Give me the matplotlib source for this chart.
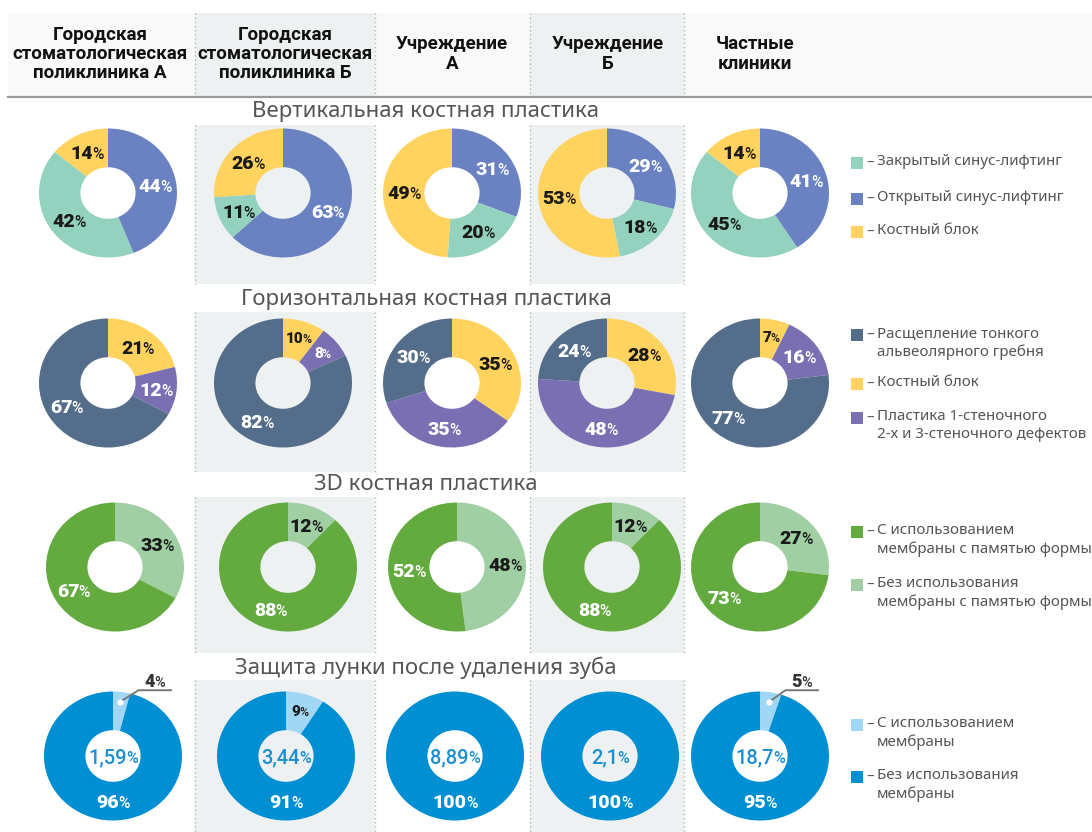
import numpy as np
import matplotlib
matplotlib.use("Agg")
import matplotlib.pyplot as plt
from matplotlib.patches import Rectangle
from matplotlib import transforms

# column headers
clinics = [
    "Городская\nстоматологическая\nполиклиника А",
    "Городская\nстоматологическая\nполиклиника Б",
    "Учреждение\nА",
    "Учреждение\nБ",
    "Частные\nклиники",
]

section_titles = [
    "Вертикальная костная пластика",
    "Горизонтальная костная пластика",
    "3D костная пластика",
    "Защита лунки после удаления зуба",
]

# vertical bone grafting, % (wedge order: open lift, closed lift, bone block)
vert_open = [44, 63, 31, 29, 41]
vert_closed = [42, 11, 20, 18, 45]
vert_block = [14, 26, 49, 53, 14]

# horizontal bone grafting, % (bone block, wall defects, ridge split)
horiz_block = [21, 10, 35, 28, 7]
horiz_defect = [12, 8, 35, 48, 16]
horiz_split = [67, 82, 30, 24, 77]

# 3D grafting, % (without / with shape-memory membrane)
d3_without = [33, 12, 48, 12, 27]
d3_with = [67, 88, 52, 88, 73]

# socket protection, % (with / without membrane) and share of all extractions
socket_with = [4, 9, 0, 0, 5]
socket_without = [96, 91, 100, 100, 95]
socket_share = ["1,59", "3,44", "8,89", "2,1", "18,7"]

C_CLOSED = "#93d2bf"
C_OPEN = "#6a82c2"
C_BLOCK = "#ffd35e"
C_SPLIT = "#546d8b"
C_DEFECT = "#7a6fb2"
C_3D_WITH = "#63ab3f"
C_3D_WITHOUT = "#a0cfa3"
C_SOCK_WITH = "#9fd7f4"
C_SOCK_WITHOUT = "#008fd3"
DARK = {C_OPEN, C_SPLIT, C_DEFECT, C_3D_WITH, C_SOCK_WITHOUT}

rows = [
    ([vert_open, vert_closed, vert_block], [C_OPEN, C_CLOSED, C_BLOCK]),
    ([horiz_block, horiz_defect, horiz_split], [C_BLOCK, C_DEFECT, C_SPLIT]),
    ([d3_without, d3_with], [C_3D_WITHOUT, C_3D_WITH]),
    ([socket_with, socket_without], [C_SOCK_WITH, C_SOCK_WITHOUT]),
]

legends = [
    [(C_CLOSED, "Закрытый синус-лифтинг"),
     (C_OPEN, "Открытый синус-лифтинг"),
     (C_BLOCK, "Костный блок")],
    [(C_SPLIT, "Расщепление тонкого\nальвеолярного гребня"),
     (C_BLOCK, "Костный блок"),
     (C_DEFECT, "Пластика 1-стеночного\n2-х и 3-стеночного дефектов")],
    [(C_3D_WITH, "С использованием\nмембраны с памятью формы"),
     (C_3D_WITHOUT, "Без использования\nмембраны с памятью формы")],
    [(C_SOCK_WITH, "С использованием\nмембраны"),
     (C_SOCK_WITHOUT, "Без использования\nмембраны")],
]

W, H = 1092, 832
TEXT_FONT = ["Noto Sans", "DejaVu Sans"]
HEAD_FONT = ["Roboto", "DejaVu Sans"]
NUM_FONT = ["Roboto", "DejaVu Sans"]

# layout in pixels
row_cy = [193, 383, 567, 756]
col_cx = [
    [108, 283, 452, 607, 760],
    [108, 283, 452, 607, 760],
    [115, 288, 457, 612, 760],
    [113, 286, 455, 610, 760],
]
RX, RY = 69, 64.5
band_y = [(125, 284), (312, 472), (497, 653), (680, 832)]
title_y = [112, 300, 485, 668]
shaded_cols = [(195, 375), (530, 684)]
legend_y = [[163, 199, 232], [335, 384, 418], [532, 585], [725, 777]]

fig = plt.figure(figsize=(W / 100, H / 100), dpi=100)
fig.patch.set_facecolor("white")
bg = fig.add_axes([0, 0, 1, 1])
bg.set_xlim(0, W)
bg.set_ylim(H, 0)
bg.axis("off")
renderer = fig.canvas.get_renderer()


def shaded(y0, y1):
    for x0, x1 in shaded_cols:
        bg.add_patch(Rectangle((x0, y0), x1 - x0, y1 - y0, color="#eef1f2", lw=0, zorder=1))
        for x in (x0, x1):
            bg.plot([x, x], [y0, y1], color="#b5b5b5", lw=1, ls=(0, (1, 2)), zorder=2)


# header
bg.add_patch(Rectangle((8, 13), W - 8, 84, color="#f9f9f9", lw=0, zorder=0))
shaded(13, 97)
bg.plot([8, W], [97, 97], color="#9b9b9b", lw=1.6, zorder=3)
head_x = [100, 285, 452, 608, 755]
for x, name in zip(head_x, clinics):
    bg.text(x, 54, name, ha="center", va="center", fontsize=13.5, fontweight="bold",
            family=HEAD_FONT, color="#111111", linespacing=1.1, zorder=4)

for i, t in enumerate(section_titles):
    shaded(*band_y[i])
    bg.text(426, title_y[i], t, ha="center", va="center", fontsize=16,
            family=TEXT_FONT, color="#555555", zorder=4)


def pct_text(ax, x, y, num, color, size, weight="heavy"):
    px = size * fig.dpi / 72
    dy = -0.36 * px
    t1 = ax.text(x, y, num, fontsize=size, fontweight=weight, color=color,
                 ha="left", va="baseline", family=NUM_FONT, zorder=5)
    t2 = ax.text(x, y, "%", fontsize=size * 0.8, fontweight="medium", color=color,
                 ha="left", va="baseline", family=NUM_FONT, zorder=5)
    w1 = t1.get_window_extent(renderer).width
    w2 = t2.get_window_extent(renderer).width
    left = -(w1 + w2 - 1) / 2
    t1.set_transform(transforms.offset_copy(ax.transData, fig=fig, x=left, y=dy, units="dots"))
    t2.set_transform(transforms.offset_copy(ax.transData, fig=fig, x=left + w1 - 1, y=dy, units="dots"))


for r, (series, colors) in enumerate(rows):
    for c in range(5):
        cx, cy = col_cx[r][c], row_cy[r]
        ax = fig.add_axes([(cx - RX) / W, 1 - (cy + RY) / H, 2 * RX / W, 2 * RY / H])
        vals = [s[c] for s in series]
        ax.pie(vals, colors=colors, startangle=90, counterclock=False, radius=1,
               wedgeprops=dict(width=0.6, linewidth=0))
        ax.set_aspect("auto")
        ax.set_xlim(-1, 1)
        ax.set_ylim(-1, 1)
        ax.axis("off")

        start = 0
        for v, col in zip(vals, colors):
            if v == 0:
                continue
            mid = np.deg2rad((start + v / 2) * 3.6)
            start += v
            if r == 3 and col == C_SOCK_WITHOUT:
                mid = np.pi
            tc = "white" if col in DARK else "#1a1a1a"
            if r == 3 and v < 6:
                # thin slice: label outside with a leader line
                dx, dy = 0.85 * np.sin(mid), 0.85 * np.cos(mid)
                ax.plot([dx, 0.37, 0.84], [dy, 1.02, 1.02], color="#7a7a7a", lw=1.4,
                        clip_on=False, zorder=4)
                ax.plot(dx, dy, "o", color="white", ms=3.5, clip_on=False, zorder=5)
                pct_text(ax, 0.6, 1.17, str(v), "#333333", 13)
                continue
            size = 11 if v <= 10 else 14
            rr = 0.74 if v <= 10 else 0.7
            pct_text(ax, rr * np.sin(mid), rr * np.cos(mid), str(v), tc, size)
        if r == 3:
            pct_text(ax, 0, 0, socket_share[c], "#1b8fd2", 14.5, weight="medium")

# legends
for r, entries in enumerate(legends):
    for (col, label), y in zip(entries, legend_y[r]):
        bg.add_patch(Rectangle((851, y - 6), 12, 12, color=col, lw=0, zorder=4))
        bg.text(866, y, "–", ha="left", va="center", fontsize=10.9, family=TEXT_FONT,
                color="#555555", zorder=4)
        bg.text(877, y - 9, label, ha="left", va="top", fontsize=10.9, family=TEXT_FONT,
                color="#555555", linespacing=1.28, zorder=4)

fig.savefig("out.png", dpi=100)
